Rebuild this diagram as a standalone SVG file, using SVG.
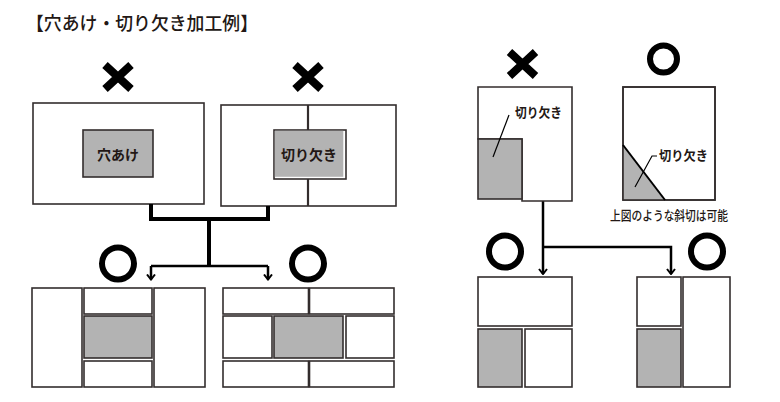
<svg xmlns="http://www.w3.org/2000/svg" width="780" height="402" viewBox="0 0 780 402">
<defs>
<style>
.box{fill:#fff;stroke:#332d2d;stroke-width:1.6}
.gray{fill:#b3b3b3;stroke:#332d2d;stroke-width:1.6}
.lbl{font-family:"Noto Sans CJK JP","Noto Sans CJK SC",sans-serif;font-weight:bold;fill:#231815}
.txt{font-family:"Noto Sans CJK JP","Noto Sans CJK SC",sans-serif;fill:#231815}
.ng{stroke:#000;stroke-width:8;fill:none}
.ok{fill:none;stroke:#000;stroke-width:6}
.conn{fill:none;stroke:#000;stroke-width:4}
.thin{fill:none;stroke:#000;stroke-width:2.5}
.lead{fill:none;stroke:#000;stroke-width:1.2}
</style>
<marker id="arr" viewBox="-6 -5 7 10" refX="0" refY="0" markerWidth="7" markerHeight="10" markerUnits="userSpaceOnUse" orient="auto">
<path d="M-5,-4 L0,0 L-5,4" fill="none" stroke="#000" stroke-width="2"/>
</marker>
</defs>
<rect width="780" height="402" fill="#fff"/>

<g id="title">
<text class="txt" x="26" y="30" font-size="18.5" font-weight="500" textLength="232" lengthAdjust="spacingAndGlyphs">【穴あけ・切り欠き加工例】</text>
</g>

<g id="mark-ng-1"><path class="ng" d="M105,65 L131,89 M131,65 L105,89"/></g>
<g id="mark-ng-2"><path class="ng" d="M295,65 L321,89 M321,65 L295,89"/></g>
<g id="mark-ng-3"><path class="ng" d="M509.5,52 L535.5,76 M535.5,52 L509.5,76"/></g>

<g id="hole-ng">
<rect class="box" x="33" y="103" width="171" height="101"/>
<rect class="gray" x="83" y="130" width="70" height="47"/>
<text class="lbl" x="118" y="160" font-size="14" text-anchor="middle">穴あけ</text>
</g>

<g id="notch-ng">
<rect class="box" x="221" y="105" width="175" height="101"/>
<line x1="308" y1="105" x2="308" y2="206" stroke="#332d2d" stroke-width="2.2"/>
<rect x="274" y="130" width="72" height="49" fill="#fff" stroke="#332d2d" stroke-width="1.6"/>
<rect x="274.8" y="130.8" width="68.5" height="46" fill="#b3b3b3"/>
<text class="lbl" x="309" y="160" font-size="14" text-anchor="middle">切り欠き</text>
</g>

<g id="connectors">
<path class="conn" d="M151,204 V219 H268 V206"/>
<path class="conn" d="M209,219 V266"/>
<path class="thin" d="M151,266 H268"/>
<path class="thin" d="M151,266 V279.5" marker-end="url(#arr)"/>
<path class="thin" d="M268,266 V279.5" marker-end="url(#arr)"/>
<path class="thin" d="M543,201 V274" marker-end="url(#arr)"/>
<path class="thin" d="M543,247 H671 V274" marker-end="url(#arr)"/>
</g>

<g id="mark-ok-1"><circle class="ok" cx="118" cy="263.5" r="16"/></g>
<g id="mark-ok-2"><circle class="ok" cx="308" cy="263.5" r="16"/></g>
<g id="mark-ok-3"><circle class="ok" cx="663.5" cy="59" r="13.5" stroke-width="5"/></g>
<g id="mark-ok-4"><circle class="ok" cx="505" cy="251.5" r="16"/></g>
<g id="mark-ok-5"><circle class="ok" cx="707" cy="251.5" r="16"/></g>

<g id="hole-ok">
<rect class="box" x="32" y="288" width="50" height="99"/>
<rect class="box" x="84" y="288" width="68" height="26"/>
<rect class="gray" x="84" y="316" width="68" height="42"/>
<rect class="box" x="84" y="361" width="68" height="26"/>
<rect class="box" x="154" y="288" width="51" height="99"/>
</g>

<g id="notch-ok">
<rect class="box" x="223" y="288" width="85.5" height="26"/>
<rect class="box" x="309.5" y="288" width="84.5" height="26"/>
<rect class="box" x="223" y="316" width="49" height="42"/>
<rect class="gray" x="274" y="316" width="69" height="42"/>
<rect class="box" x="346" y="316" width="48" height="42"/>
<rect class="box" x="223" y="361" width="85.5" height="26"/>
<rect class="box" x="309.5" y="361" width="84.5" height="26"/>
</g>

<g id="corner-ng">
<path class="box" d="M478,87 H572 V201 H522 V139 H478 Z"/>
<rect class="gray" x="478" y="139" width="44" height="60"/>
<text class="lbl" x="515" y="117" font-size="13" textLength="47" lengthAdjust="spacingAndGlyphs">切り欠き</text>
<path class="lead" d="M509,115 L493,157"/>
</g>

<g id="corner-ok">
<rect class="box" x="623" y="87" width="92" height="113"/>
<polygon points="623,145 623,200 665,200" fill="#b3b3b3"/>
<rect x="623" y="87" width="92" height="113" fill="none" stroke="#332d2d" stroke-width="1.6"/>
<line x1="623" y1="145" x2="665" y2="200" stroke="#000" stroke-width="2"/>
<text class="lbl" x="659" y="160" font-size="13" textLength="49" lengthAdjust="spacingAndGlyphs">切り欠き</text>
<path class="lead" d="M657,156 H652 L635,187"/>
<text class="txt" x="610" y="220" font-size="13" font-weight="500" textLength="118" lengthAdjust="spacingAndGlyphs">上図のような斜切は可能</text>
</g>

<g id="layout-ok-1">
<rect class="box" x="478" y="277" width="94" height="49"/>
<rect class="gray" x="478" y="329" width="44" height="58"/>
<rect class="box" x="525" y="329" width="47" height="58"/>
</g>

<g id="layout-ok-2">
<rect class="box" x="637" y="277" width="44" height="49"/>
<rect class="gray" x="637" y="329" width="44" height="58"/>
<rect class="box" x="683" y="277" width="47" height="110"/>
</g>
</svg>
